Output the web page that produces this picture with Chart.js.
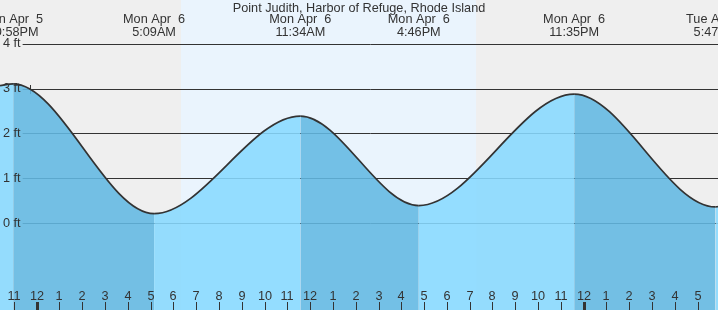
<!DOCTYPE html>
<html>
<head>
<meta charset="utf-8">
<script src="https://cdn.jsdelivr.net/npm/chart.js@4/dist/chart.umd.min.js"></script>
<style>
  body { margin: 0; background: #fff; }
  #wrap { width: 718px; height: 310px; }
</style>
</head>
<body>
<div id="wrap"><canvas id="tideChart" width="718" height="310"></canvas></div>
<script>
// hours counted from Mon Apr 6 00:00
var tideHours = [-1.61, -1.033, 5.15, 11.567, 16.767, 23.583, 29.783, 29.9];
var tideFeet  = [3.07, 3.11, 0.21, 2.39, 0.39, 2.88, 0.36, 0.365];

// high / low events shown at the top
var eventHours = [-1.033, 5.15, 11.567, 16.767, 23.583, 29.783];
var eventDays  = ['Sun Apr  5', 'Mon Apr  6', 'Mon Apr  6', 'Mon Apr  6', 'Mon Apr  6', 'Tue Apr  7'];
var eventTimes = ['10:58PM', '5:09AM', '11:34AM', '4:46PM', '11:35PM', '5:47AM'];

// hour ticks along the bottom
var tickHours  = [-1,0,1,2,3,4,5,6,7,8,9,10,11,12,13,14,15,16,17,18,19,20,21,22,23,24,25,26,27,28,29];
var tickLabels = ['11','12','1','2','3','4','5','6','7','8','9','10','11','12','1','2','3','4','5','6','7','8','9','10','11','12','1','2','3','4','5'];
var midnights  = [0, 24];

// foot levels
var feetLevels = [4, 3, 2, 1, 0];
var feetLabels = ['4 ft', '3 ft', '2 ft', '1 ft', '0 ft'];

// daylight (sunrise / sunset)
var sunrise = 6.33;
var sunset = 19.28;

var title = 'Point Judith, Harbor of Refuge, Rhode Island';

var FONT = '12.7px "Liberation Sans", Arial, sans-serif';
var TEXT = '#333';

var points = tideHours.map(function (h, i) { return { x: h, y: tideFeet[i] }; });

var tidePlugin = {
    id: 'tideDecor',
    beforeDraw: function (chart) {
        var ctx = chart.ctx, a = chart.chartArea, xs = chart.scales.x;
        ctx.save();
        ctx.fillStyle = '#efefef';
        ctx.fillRect(a.left, a.top, a.right - a.left, a.bottom - a.top);
        var x1 = xs.getPixelForValue(sunrise), x2 = xs.getPixelForValue(sunset);
        ctx.fillStyle = '#eaf4fd';
        ctx.fillRect(x1, a.top, x2 - x1, a.bottom - a.top);
        ctx.restore();
    },
    beforeDatasetsDraw: function (chart) {
        var ctx = chart.ctx, a = chart.chartArea, ys = chart.scales.y;
        ctx.save();
        ctx.font = FONT;
        ctx.strokeStyle = '#333';
        ctx.lineWidth = 1;
        feetLevels.forEach(function (v, i) {
            var y = Math.round(ys.getPixelForValue(v)) + 0.5;
            var x0 = 3 + ctx.measureText(feetLabels[i]).width + 2;
            ctx.beginPath();
            ctx.moveTo(x0, y);
            ctx.lineTo(a.right, y);
            ctx.stroke();
        });
        // small marker on the 3 ft line
        var y3 = Math.round(ys.getPixelForValue(3));
        ctx.beginPath();
        ctx.moveTo(30.5, y3 - 4);
        ctx.lineTo(30.5, y3 + 5);
        ctx.stroke();
        ctx.restore();
    },
    afterDatasetsDraw: function (chart) {
        var ctx = chart.ctx, a = chart.chartArea, xs = chart.scales.x, ys = chart.scales.y;
        ctx.save();
        ctx.font = FONT;
        ctx.fillStyle = TEXT;

        // y labels
        ctx.textAlign = 'left';
        ctx.textBaseline = 'middle';
        feetLevels.forEach(function (v, i) {
            ctx.fillText(feetLabels[i], 3, ys.getPixelForValue(v));
        });

        // title
        ctx.textAlign = 'center';
        ctx.fillText(title, (a.left + a.right) / 2, 8);

        // event labels
        eventHours.forEach(function (h, i) {
            var x = xs.getPixelForValue(h);
            ctx.fillText(eventDays[i], x, 19);
            ctx.fillText(eventTimes[i], x, 32);
        });

        // hour ticks
        tickHours.forEach(function (h, i) {
            var x = Math.round(xs.getPixelForValue(h));
            ctx.fillText(tickLabels[i], x, 296);
            var w = midnights.indexOf(h) >= 0 ? 3 : 1;
            ctx.fillRect(x - Math.floor(w / 2), 302, w, a.bottom - 302);
        });
        ctx.restore();
    }
};

var ctx = document.getElementById('tideChart').getContext('2d');
var chart = new Chart(ctx, {
    type: 'line',
    data: {
        datasets: [{
            data: points,
            borderColor: '#333',
            borderWidth: 1.7,
            pointRadius: 0,
            cubicInterpolationMode: 'monotone',
            fill: 'start',
            backgroundColor: 'rgba(136,217,255,0.88)',
            segment: {
                backgroundColor: function (c) {
                    return c.p1.parsed.y < c.p0.parsed.y ? 'rgba(98,184,226,0.88)' : 'rgba(136,217,255,0.88)';
                }
            }
        }]
    },
    options: {
        responsive: false,
        animation: false,
        layout: { padding: 0 },
        plugins: { legend: { display: false }, tooltip: { enabled: false }, title: { display: false } },
        scales: {
            x: { type: 'linear', display: false, min: -1.61, max: 29.895 },
            y: { display: false, min: -1.944, max: 4.983 }
        }
    },
    plugins: [tidePlugin]
});
</script>
</body>
</html>
